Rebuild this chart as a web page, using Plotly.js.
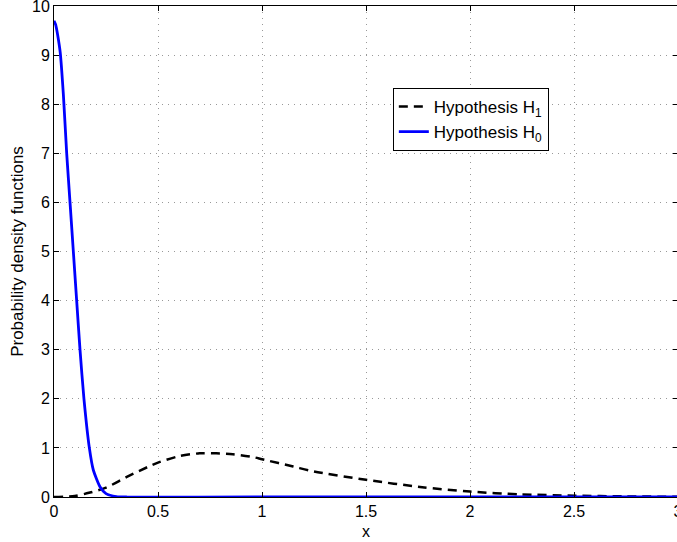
<!DOCTYPE html>
<html>
<head>
<meta charset="utf-8">
<script src="https://cdn.plot.ly/plotly-3.0.1.min.js"></script>
<style>
html,body{margin:0;padding:0;overflow:hidden;background:#fff;}
#chart{width:680px;height:542px;}
</style>
</head>
<body>
<div id="chart"></div>
<script>
// H1 (dashed black)
const h1X = [0, 0.1, 0.173, 0.25, 0.35, 0.45, 0.5, 0.6, 0.7, 0.78, 0.86, 0.96, 1.0, 1.15, 1.25, 1.5, 1.77, 2.0, 2.24, 2.5, 2.75, 3.0];
const h1Y = [0, 0.02, 0.09, 0.19, 0.41, 0.61, 0.70, 0.83, 0.89, 0.89, 0.87, 0.81, 0.77, 0.62, 0.52, 0.35, 0.20, 0.11, 0.055, 0.027, 0.012, 0.005];
// H0 (solid blue)
const h0X = [0, 0.008, 0.018, 0.03, 0.045, 0.061, 0.077, 0.093, 0.109, 0.125, 0.144, 0.17, 0.189, 0.221, 0.25, 0.3, 0.35, 1.0, 2.0, 3.0];
const h0Y = [9.7, 9.62, 9.4, 9.05, 8.2, 7.0, 6.0, 5.0, 4.0, 3.0, 2.0, 1.0, 0.55, 0.21, 0.07, 0.01, 0, 0, 0, 0];

const legendNames = ['Hypothesis H<sub>1</sub>', 'Hypothesis H<sub>0</sub>'];
const xTicks = [0, 0.5, 1, 1.5, 2, 2.5, 3];
const yTicks = [0, 1, 2, 3, 4, 5, 6, 7, 8, 9, 10];

const traces = [
  {x: h1X, y: h1Y, name: legendNames[0], mode: 'lines',
   line: {color: '#000', width: 2.5, dash: '9px,6px', shape: 'spline', smoothing: 0.8}},
  {x: h0X, y: h0Y, name: legendNames[1], mode: 'lines',
   line: {color: '#0000ff', width: 2.8, shape: 'spline', smoothing: 0.6}}
];

const FONT = 'Liberation Sans, Arial, Helvetica, sans-serif';
const axisCommon = {
  showline: true, linecolor: '#000', linewidth: 1, mirror: 'ticks',
  ticks: 'inside', ticklen: 5, tickcolor: '#000', tickwidth: 1,
  showgrid: true, gridcolor: '#999', gridwidth: 1, griddash: '1px,5px',
  zeroline: false, ticklabeloverflow: 'allow',
  tickfont: {family: FONT, size: 16, color: '#000'}
};

const layout = {
  width: 680, height: 542,
  margin: {l: 54, r: 2, t: 6, b: 45},
  paper_bgcolor: '#fff', plot_bgcolor: '#fff',
  font: {family: FONT, size: 16, color: '#000'},
  showlegend: true,
  legend: {x: 0.543, y: 0.833, xanchor: 'left', yanchor: 'top',
    bgcolor: '#fff', bordercolor: '#000', borderwidth: 1,
    font: {family: FONT, size: 17, color: '#000'},
    tracegroupgap: 0},
  xaxis: Object.assign({}, axisCommon, {range: [0, 3], tickvals: xTicks, ticktext: xTicks.map(String),
    title: {text: 'x', standoff: 6, font: {family: FONT, size: 16}}}),
  yaxis: Object.assign({}, axisCommon, {range: [0, 10], tickvals: yTicks, ticktext: yTicks.map(String),
    title: {text: 'Probability density functions', standoff: 4, font: {family: FONT, size: 17}}})
};

Plotly.newPlot('chart', traces, layout, {displayModeBar: false, staticPlot: true});
</script>
</body>
</html>
